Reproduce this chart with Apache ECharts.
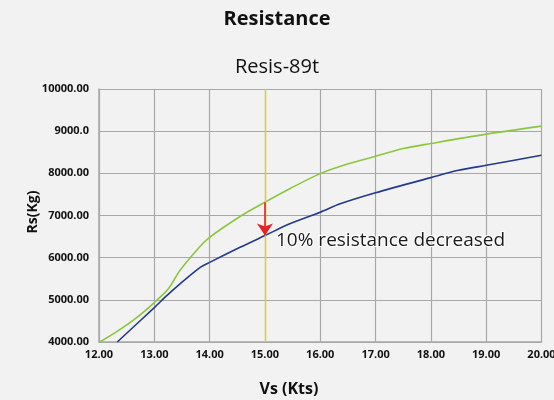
<!DOCTYPE html>
<html><head><meta charset="utf-8">
<script src="https://cdn.jsdelivr.net/npm/echarts@6/dist/echarts.min.js"></script>
<style>html,body{margin:0;padding:0;background:#f1f2f1;overflow:hidden}#c{width:554px;height:400px}</style>
</head><body><div id="c"></div>
<script>
var speeds = [12.0, 12.32, 12.68, 13.0, 13.25, 13.46, 13.83, 14.0, 14.55, 15.0, 15.45, 16.0, 16.48, 17.0, 17.5, 18.0, 19.0, 20.0];
var original = [3990, 4245, 4579, 4936, 5255, 5690, 6270, 6483, 6976, 7317, 7636, 7993, 8214, 8405, 8588, 8707, 8929, 9119];
var reducedSpeeds = [12.33, 13.0, 13.22, 13.46, 13.83, 14.0, 14.55, 15.0, 15.45, 16.0, 16.36, 17.0, 18.0, 18.5, 19.0, 20.0];
var reduced = [4000, 4817, 5095, 5373, 5769, 5888, 6245, 6524, 6802, 7079, 7278, 7540, 7898, 8071, 8190, 8429];
var yTickLabels = {4000:'4000.00',5000:'5000.00',6000:'6000.00',7000:'7000.00',8000:'8000.00',9000:'9000.0',10000:'10000.00'};
var markSpeed = 15.0;
var markFrom = 7317, markTo = 6524;
var noteText = '10% resistance decreased';

function pairs(xs, ys){ return xs.map(function(x,i){return [x, ys[i]];}); }
var font = 'Open Sans';
var chart = echarts.init(document.getElementById('c'));
chart.setOption({
  backgroundColor: '#f1f2f1',
  animation: false,
  title: [
    {text: 'Resistance', left: 'center', top: 4, textStyle: {fontFamily: font, fontSize: 20, fontWeight: 'bold', color: '#111'}},
    {text: 'Resis-89t', left: 'center', top: 52, textStyle: {fontFamily: font, fontSize: 20, fontWeight: 'normal', color: '#111'}}
  ],
  graphic: [
    {type: 'text', x: 33, y: 212, rotation: Math.PI / 2,
      style: {text: 'Rs(Kg)', align: 'center', verticalAlign: 'middle', fill: '#111', font: 'bold 14px "Open Sans"'}},
    {type: 'text', x: 289, y: 389,
      style: {text: 'Vs (Kts)', align: 'center', verticalAlign: 'middle', fill: '#111', font: 'bold 16px "Open Sans"'}}
  ],
  grid: {left: 99, right: 12.5, top: 89, bottom: 58, containLabel: false, outerBoundsMode: 'none', show: false},
  xAxis: {
    type: 'value', min: 12, max: 20, interval: 1,
    axisLine: {show: true, lineStyle: {color: '#a8a8a8', width: 1.5}},
    axisTick: {show: false},
    axisLabel: {fontFamily: font, fontSize: 11, fontWeight: 'bold', color: '#111', margin: 7,
      formatter: function(v){return v.toFixed(2);}},
    splitLine: {show: true, lineStyle: {color: '#a8a8a8', width: 1.2}}
  },
  yAxis: {
    type: 'value', min: 4000, max: 10000, interval: 1000,
    axisLine: {show: true, lineStyle: {color: '#a8a8a8', width: 1.5}},
    axisTick: {show: false},
    axisLabel: {fontFamily: font, fontSize: 11, fontWeight: 'bold', color: '#111', margin: 10,
      formatter: function(v){return yTickLabels[v] || v;}},
    splitLine: {show: true, lineStyle: {color: '#a8a8a8', width: 1.2}}
  },
  series: [
    {
      type: 'line', name: 'Original', data: pairs(speeds, original), showSymbol: false, smooth: 0.3,
      lineStyle: {color: '#8cc63f', width: 1.6}, itemStyle: {color: '#8cc63f'},
      markLine: {
        silent: true, symbol: ['none','none'],
        lineStyle: {color: '#f7cc00', width: 1.4, type: 'solid'},
        label: {show: false},
        data: [{xAxis: markSpeed}]
      }
    },
    {
      type: 'line', name: 'Reduced', data: pairs(reducedSpeeds, reduced), showSymbol: false, smooth: 0.3,
      lineStyle: {color: '#22398f', width: 1.6}, itemStyle: {color: '#22398f'},
      markLine: {
        silent: true, symbol: ['none','arrow'], symbolSize: [12, 12],
        lineStyle: {color: '#e8202a', width: 1.6, type: 'solid'},
        label: {show: false},
        data: [[{coord: [markSpeed, markFrom]}, {coord: [markSpeed, markTo]}]]
      },
      markPoint: {
        silent: true, symbol: 'circle', symbolSize: 0,
        label: {show: true, position: 'right', distance: 0, formatter: noteText,
          fontFamily: font, fontSize: 19, color: '#1a1a1a', textBorderColor: '#ffffff', textBorderWidth: 2},
        data: [{coord: [15.2, 6400]}]
      }
    }
  ]
});
</script></body></html>
